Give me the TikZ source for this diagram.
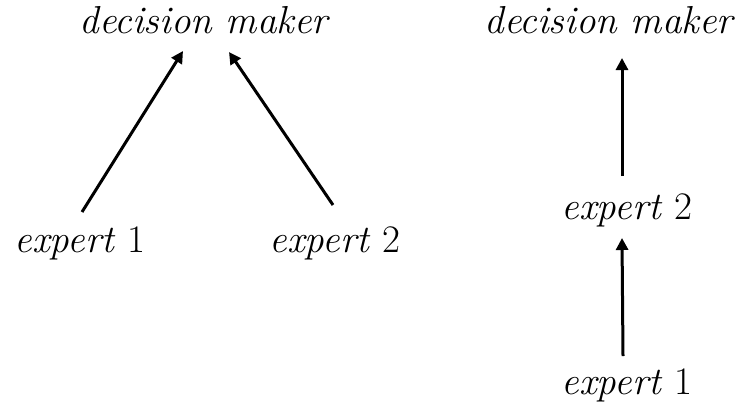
\documentclass[tikz,border=0pt]{standalone}
\usepackage{fontspec}
\usetikzlibrary{arrows.meta}
\begin{document}
\begin{tikzpicture}[x=1pt,y=-1pt,
  lbl/.style={inner sep=0pt,font=\fontsize{39}{45}\selectfont},
  arr/.style={line width=3pt,-{Triangle[length=12pt,width=12pt]}}]
\useasboundingbox (0,0) rectangle (743,415);
\node[lbl] (dm1) at (205,20) {\textit{decision maker}};
\node[lbl] (e1a) at (80,243) {\textit{expert} 1};
\node[lbl] (e2a) at (335,243) {\textit{expert} 2};
\node[lbl] (dm2) at (610,20) {\textit{decision maker}};
\node[lbl] (e2b) at (627,210) {\textit{expert} 2};
\node[lbl] (e1b) at (627,385) {\textit{expert} 1};
\coordinate (a1s) at (82,212); \coordinate (a1e) at (183,51);
\coordinate (a2s) at (333,205); \coordinate (a2e) at (229,52);
\coordinate (a3s) at (622,176); \coordinate (a3e) at (622,58);
\coordinate (a4s) at (623,356); \coordinate (a4e) at (622,238);
\draw[arr] (a1s) -- (a1e);
\draw[arr] (a2s) -- (a2e);
\draw[arr] (a3s) -- (a3e);
\draw[arr] (a4s) -- (a4e);
\end{tikzpicture}
\end{document}
